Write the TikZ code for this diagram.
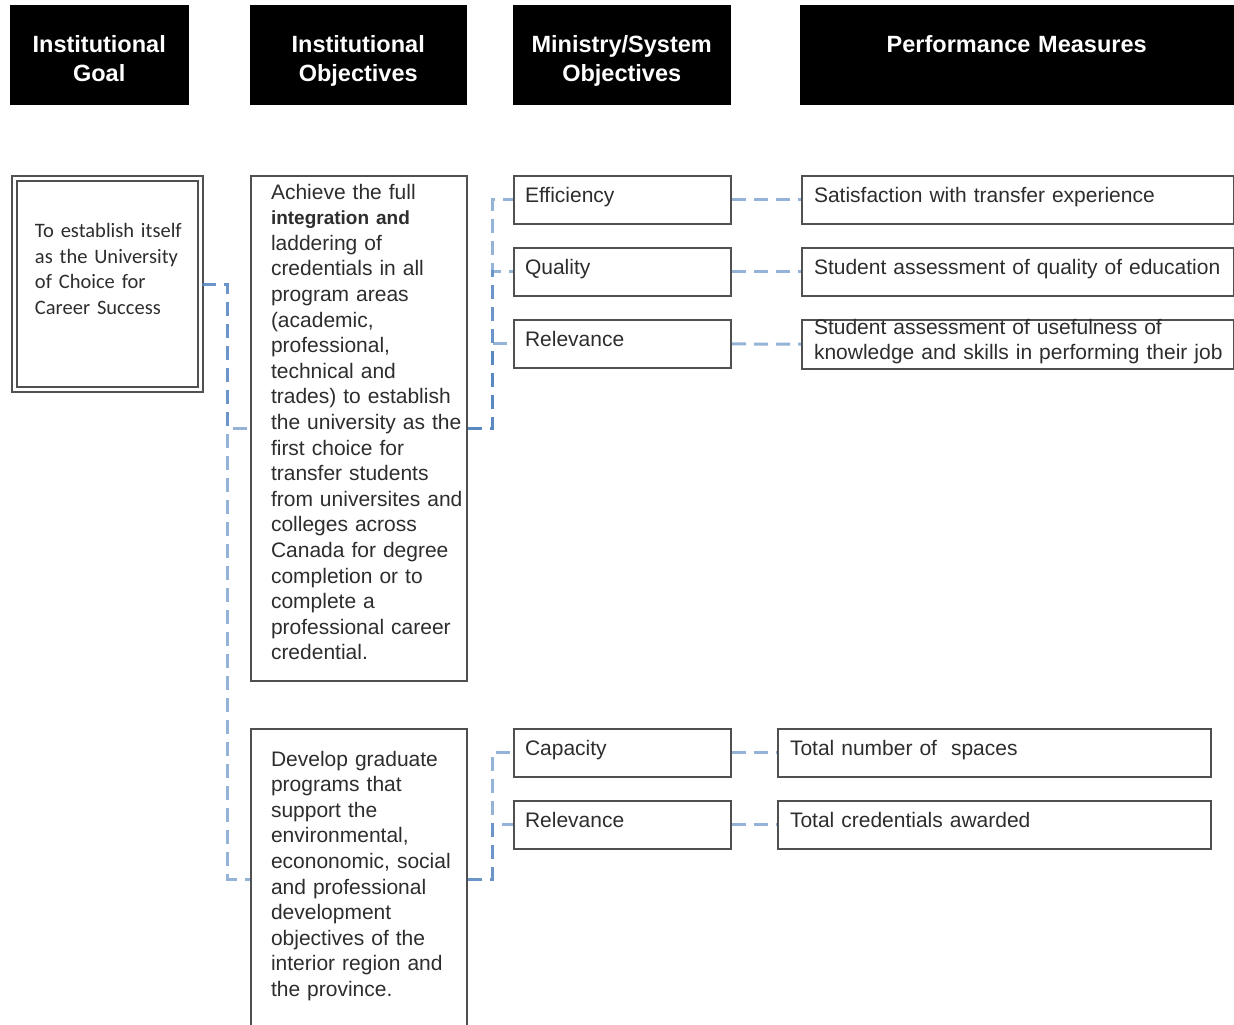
\documentclass[tikz,border=0pt]{standalone}
\usepackage{fontspec}
\setmainfont{Liberation Sans}
\newfontfamily\goalfont{Carlito}
\usepackage{tikz}

\definecolor{linkblue}{RGB}{79,129,189}
\definecolor{boxgray}{RGB}{80,80,80}
\definecolor{txtgray}{RGB}{45,45,45}

\begin{document}
\begin{tikzpicture}[x=1pt, y=-1pt,
    head/.style={draw=black, fill=black, text=white, anchor=north west, inner sep=0pt, align=center,
        font=\fontsize{23.5}{29}\selectfont\bfseries, text height=47pt, text depth=52pt},
    goal/.style={draw=boxgray, double=white, line width=2pt, double distance=3pt, anchor=north west,
        inner sep=0pt, align=left, text width=186pt, text height=59pt, text depth=152pt, text=txtgray,
        font=\goalfont\fontsize{20.5}{25.6}\selectfont, execute at begin node={\leftskip=20.5pt}},
    obj/.style={draw=boxgray, line width=2pt, anchor=north west, inner sep=0pt, align=left,
        text width=216pt, text=txtgray, font=\fontsize{21}{25.6}\selectfont,
        execute at begin node={\leftskip=20pt}},
    mbox/.style={draw=boxgray, line width=2pt, anchor=north west, inner sep=0pt, align=left,
        text height=26.5pt, text depth=21pt, text=txtgray, font=\fontsize{21}{25.6}\selectfont,
        execute at begin node={\leftskip=11pt}},
    pbox/.style={mbox, execute at begin node={\leftskip=12pt}},
    link/.style={draw=linkblue, draw opacity=0.6, line width=3pt, dash pattern=on 14pt off 8pt}]
    \useasboundingbox (0,0) rectangle (1234,1025);

    % column headers
    \node[head, text width=178pt] (HG) at (10,5) {Institutional\\Goal};
    \node[head, text width=216pt] (HO) at (250,5) {Institutional\\Objectives};
    \node[head, text width=217pt] (HM) at (513,5) {Ministry/System\\Objectives};
    \node[head, text width=433pt] (HP) at (800,5) {Performance Measures};

    \node[goal] (G) at (13.5,177.5) {To establish itself\\as the University\\of Choice for\\Career Success};

    \node[obj, text height=23pt, text depth=482pt] (O1) at (250,175) {Achieve the full\\
        {\fontsize{19}{25.6}\selectfont\bfseries integration and}\\laddering of\\credentials in all\\
        program areas\\(academic,\\professional,\\technical and\\trades) to establish\\
        the university as the\\first choice for\\transfer students\\from universites and\\
        colleges across\\Canada for degree\\completion or to\\complete a\\
        professional career\\credential.};
    \node[obj, text height=37pt, text depth=263pt] (O2) at (250,728) {Develop graduate\\
        programs that\\support the\\environmental,\\econonomic, social\\and professional\\
        development\\objectives of the\\interior region and\\the province.};

    \node[mbox, text width=217pt] (M1) at (513,175) {Efficiency};
    \node[mbox, text width=217pt] (M2) at (513,247) {Quality};
    \node[mbox, text width=217pt] (M3) at (513,319) {Relevance};
    \node[mbox, text width=217pt] (M4) at (513,728) {Capacity};
    \node[mbox, text width=217pt] (M5) at (513,800) {Relevance};

    \node[pbox, text width=432pt] (P1) at (801,175) {Satisfaction with transfer experience};
    \node[pbox, text width=432pt] (P2) at (801,247) {Student assessment of quality of education};
    \node[pbox, text width=432pt, text height=14pt, text depth=35pt] (P3) at (801,319)
        {Student assessment of usefulness of\\knowledge and skills in performing their job};
    \node[pbox, text width=433pt] (P4) at (777,728) {Total number of~ spaces};
    \node[pbox, text width=433pt] (P5) at (777,800) {Total credentials awarded};

    \draw[link] (G.east) -- ++(26,0) |- (O1.west);
    \draw[link] (G.east) -- ++(26,0) |- (O2.west);
    \draw[link] (O1.east) -- ++(24,0) |- (M1.west);
    \draw[link] (O1.east) -- ++(24,0) |- (M2.west);
    \draw[link] (O1.east) -- ++(24,0) |- (M3.west);
    \draw[link] (O2.east) -- ++(24,0) |- (M4.west);
    \draw[link] (O2.east) -- ++(24,0) |- (M5.west);

    \draw[link] (M1) -- (P1); \draw[link] (M2) -- (P2);
    \draw[link] (M3) -- (P3); \draw[link] (M4) -- (P4);
    \draw[link] (M5) -- (P5);
\end{tikzpicture}
\end{document}
